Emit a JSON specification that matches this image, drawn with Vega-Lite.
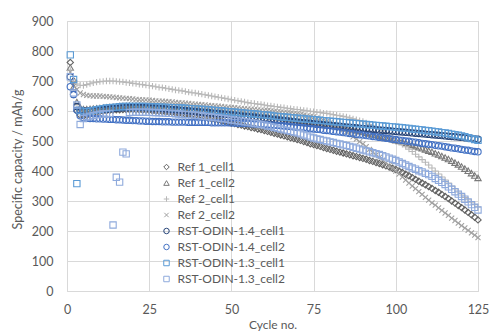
{
"$schema":"https://vega.github.io/schema/vega-lite/v6.json",
"width":411,"height":270,
"autosize":{"type":"none"},
"padding":{"left":67,"top":21,"right":12,"bottom":40},
"background":"#ffffff",
"config":{"font":"Lato","view":{"stroke":"#d9d9d9","strokeWidth":1}},
"datasets":{
"A":[{"c":1,"v":762},{"c":2,"v":700},{"c":3,"v":600},{"c":4,"v":586},{"c":5,"v":583},{"c":6,"v":585},{"c":7,"v":588},{"c":8,"v":592},{"c":9,"v":595},{"c":10,"v":598},{"c":11,"v":600},{"c":12,"v":601},{"c":13,"v":602},{"c":14,"v":603},{"c":15,"v":604},{"c":16,"v":604},{"c":17,"v":605},{"c":18,"v":605},{"c":19,"v":605},{"c":20,"v":605},{"c":21,"v":604},{"c":22,"v":604},{"c":23,"v":603},{"c":24,"v":603},{"c":25,"v":602},{"c":26,"v":601},{"c":27,"v":600},{"c":28,"v":599},{"c":29,"v":598},{"c":30,"v":597},{"c":31,"v":596},{"c":32,"v":595},{"c":33,"v":594},{"c":34,"v":592},{"c":35,"v":591},{"c":36,"v":589},{"c":37,"v":588},{"c":38,"v":586},{"c":39,"v":584},{"c":40,"v":582},{"c":41,"v":580},{"c":42,"v":578},{"c":43,"v":576},{"c":44,"v":574},{"c":45,"v":572},{"c":46,"v":570},{"c":47,"v":567},{"c":48,"v":565},{"c":49,"v":562},{"c":50,"v":560},{"c":51,"v":558},{"c":52,"v":555},{"c":53,"v":553},{"c":54,"v":550},{"c":55,"v":548},{"c":56,"v":545},{"c":57,"v":543},{"c":58,"v":540},{"c":59,"v":538},{"c":60,"v":535},{"c":61,"v":532},{"c":62,"v":529},{"c":63,"v":526},{"c":64,"v":523},{"c":65,"v":520},{"c":66,"v":517},{"c":67,"v":514},{"c":68,"v":511},{"c":69,"v":508},{"c":70,"v":505},{"c":71,"v":502},{"c":72,"v":498},{"c":73,"v":495},{"c":74,"v":491},{"c":75,"v":488},{"c":76,"v":485},{"c":77,"v":482},{"c":78,"v":478},{"c":79,"v":475},{"c":80,"v":472},{"c":81,"v":469},{"c":82,"v":466},{"c":83,"v":463},{"c":84,"v":460},{"c":85,"v":457},{"c":86,"v":454},{"c":87,"v":451},{"c":88,"v":448},{"c":89,"v":445},{"c":90,"v":442},{"c":91,"v":439},{"c":92,"v":435},{"c":93,"v":432},{"c":94,"v":428},{"c":95,"v":425},{"c":96,"v":421},{"c":97,"v":417},{"c":98,"v":413},{"c":99,"v":409},{"c":100,"v":405},{"c":101,"v":400},{"c":102,"v":395},{"c":103,"v":389},{"c":104,"v":384},{"c":105,"v":378},{"c":106,"v":372},{"c":107,"v":366},{"c":108,"v":360},{"c":109,"v":354},{"c":110,"v":348},{"c":111,"v":342},{"c":112,"v":335},{"c":113,"v":329},{"c":114,"v":322},{"c":115,"v":315},{"c":116,"v":308},{"c":117,"v":300},{"c":118,"v":293},{"c":119,"v":285},{"c":120,"v":278},{"c":121,"v":270},{"c":122,"v":262},{"c":123,"v":254},{"c":124,"v":246},{"c":125,"v":237}],
"B":[{"c":1,"v":745},{"c":2,"v":680},{"c":3,"v":630},{"c":4,"v":612},{"c":5,"v":606},{"c":6,"v":606},{"c":7,"v":607},{"c":8,"v":608},{"c":9,"v":609},{"c":10,"v":610},{"c":11,"v":611},{"c":12,"v":612},{"c":13,"v":613},{"c":14,"v":614},{"c":15,"v":615},{"c":16,"v":616},{"c":17,"v":617},{"c":18,"v":617},{"c":19,"v":618},{"c":20,"v":618},{"c":21,"v":618},{"c":22,"v":618},{"c":23,"v":617},{"c":24,"v":617},{"c":25,"v":617},{"c":26,"v":616},{"c":27,"v":616},{"c":28,"v":615},{"c":29,"v":615},{"c":30,"v":614},{"c":31,"v":613},{"c":32,"v":612},{"c":33,"v":612},{"c":34,"v":611},{"c":35,"v":610},{"c":36,"v":609},{"c":37,"v":608},{"c":38,"v":607},{"c":39,"v":607},{"c":40,"v":606},{"c":41,"v":605},{"c":42,"v":604},{"c":43,"v":603},{"c":44,"v":602},{"c":45,"v":601},{"c":46,"v":600},{"c":47,"v":599},{"c":48,"v":598},{"c":49,"v":597},{"c":50,"v":596},{"c":51,"v":595},{"c":52,"v":594},{"c":53,"v":593},{"c":54,"v":592},{"c":55,"v":591},{"c":56,"v":590},{"c":57,"v":589},{"c":58,"v":588},{"c":59,"v":586},{"c":60,"v":585},{"c":61,"v":584},{"c":62,"v":582},{"c":63,"v":581},{"c":64,"v":579},{"c":65,"v":578},{"c":66,"v":576},{"c":67,"v":575},{"c":68,"v":573},{"c":69,"v":572},{"c":70,"v":570},{"c":71,"v":568},{"c":72,"v":567},{"c":73,"v":565},{"c":74,"v":564},{"c":75,"v":562},{"c":76,"v":560},{"c":77,"v":558},{"c":78,"v":557},{"c":79,"v":555},{"c":80,"v":553},{"c":81,"v":551},{"c":82,"v":549},{"c":83,"v":547},{"c":84,"v":545},{"c":85,"v":543},{"c":86,"v":540},{"c":87,"v":538},{"c":88,"v":535},{"c":89,"v":533},{"c":90,"v":530},{"c":91,"v":527},{"c":92,"v":525},{"c":93,"v":522},{"c":94,"v":520},{"c":95,"v":517},{"c":96,"v":514},{"c":97,"v":511},{"c":98,"v":509},{"c":99,"v":506},{"c":100,"v":503},{"c":101,"v":500},{"c":102,"v":497},{"c":103,"v":494},{"c":104,"v":490},{"c":105,"v":487},{"c":106,"v":483},{"c":107,"v":479},{"c":108,"v":476},{"c":109,"v":472},{"c":110,"v":468},{"c":111,"v":464},{"c":112,"v":459},{"c":113,"v":455},{"c":114,"v":450},{"c":115,"v":445},{"c":116,"v":440},{"c":117,"v":434},{"c":118,"v":428},{"c":119,"v":422},{"c":120,"v":415},{"c":121,"v":408},{"c":122,"v":401},{"c":123,"v":393},{"c":124,"v":385},{"c":125,"v":377}],
"C":[{"c":1,"v":735},{"c":2,"v":705},{"c":3,"v":690},{"c":4,"v":686},{"c":5,"v":685},{"c":6,"v":688},{"c":7,"v":691},{"c":8,"v":694},{"c":9,"v":696},{"c":10,"v":698},{"c":11,"v":699},{"c":12,"v":700},{"c":13,"v":700},{"c":14,"v":700},{"c":15,"v":699},{"c":16,"v":698},{"c":17,"v":697},{"c":18,"v":695},{"c":19,"v":694},{"c":20,"v":692},{"c":21,"v":691},{"c":22,"v":689},{"c":23,"v":688},{"c":24,"v":686},{"c":25,"v":685},{"c":26,"v":683},{"c":27,"v":681},{"c":28,"v":679},{"c":29,"v":678},{"c":30,"v":676},{"c":31,"v":674},{"c":32,"v":672},{"c":33,"v":670},{"c":34,"v":669},{"c":35,"v":667},{"c":36,"v":665},{"c":37,"v":663},{"c":38,"v":661},{"c":39,"v":660},{"c":40,"v":658},{"c":41,"v":656},{"c":42,"v":654},{"c":43,"v":652},{"c":44,"v":650},{"c":45,"v":648},{"c":46,"v":646},{"c":47,"v":644},{"c":48,"v":642},{"c":49,"v":640},{"c":50,"v":638},{"c":51,"v":636},{"c":52,"v":634},{"c":53,"v":632},{"c":54,"v":630},{"c":55,"v":628},{"c":56,"v":626},{"c":57,"v":625},{"c":58,"v":623},{"c":59,"v":622},{"c":60,"v":620},{"c":61,"v":618},{"c":62,"v":617},{"c":63,"v":615},{"c":64,"v":614},{"c":65,"v":612},{"c":66,"v":611},{"c":67,"v":609},{"c":68,"v":608},{"c":69,"v":606},{"c":70,"v":605},{"c":71,"v":604},{"c":72,"v":602},{"c":73,"v":601},{"c":74,"v":599},{"c":75,"v":598},{"c":76,"v":596},{"c":77,"v":595},{"c":78,"v":593},{"c":79,"v":592},{"c":80,"v":590},{"c":81,"v":588},{"c":82,"v":586},{"c":83,"v":584},{"c":84,"v":582},{"c":85,"v":580},{"c":86,"v":577},{"c":87,"v":574},{"c":88,"v":571},{"c":89,"v":568},{"c":90,"v":565},{"c":91,"v":560},{"c":92,"v":555},{"c":93,"v":550},{"c":94,"v":545},{"c":95,"v":540},{"c":96,"v":534},{"c":97,"v":527},{"c":98,"v":520},{"c":99,"v":513},{"c":100,"v":505},{"c":101,"v":497},{"c":102,"v":489},{"c":103,"v":481},{"c":104,"v":473},{"c":105,"v":465},{"c":106,"v":456},{"c":107,"v":447},{"c":108,"v":438},{"c":109,"v":429},{"c":110,"v":420},{"c":111,"v":410},{"c":112,"v":400},{"c":113,"v":390},{"c":114,"v":380},{"c":115,"v":370},{"c":116,"v":360},{"c":117,"v":350},{"c":118,"v":340},{"c":119,"v":330},{"c":120,"v":320},{"c":121,"v":312},{"c":122,"v":304},{"c":123,"v":296},{"c":124,"v":288},{"c":125,"v":280}],
"D":[{"c":1,"v":730},{"c":2,"v":695},{"c":3,"v":672},{"c":4,"v":660},{"c":5,"v":655},{"c":6,"v":652},{"c":7,"v":651},{"c":8,"v":650},{"c":9,"v":650},{"c":10,"v":650},{"c":11,"v":649},{"c":12,"v":648},{"c":13,"v":647},{"c":14,"v":646},{"c":15,"v":645},{"c":16,"v":644},{"c":17,"v":643},{"c":18,"v":642},{"c":19,"v":641},{"c":20,"v":640},{"c":21,"v":639},{"c":22,"v":638},{"c":23,"v":637},{"c":24,"v":637},{"c":25,"v":636},{"c":26,"v":635},{"c":27,"v":634},{"c":28,"v":633},{"c":29,"v":633},{"c":30,"v":632},{"c":31,"v":631},{"c":32,"v":630},{"c":33,"v":629},{"c":34,"v":628},{"c":35,"v":627},{"c":36,"v":626},{"c":37,"v":625},{"c":38,"v":624},{"c":39,"v":623},{"c":40,"v":622},{"c":41,"v":621},{"c":42,"v":620},{"c":43,"v":619},{"c":44,"v":618},{"c":45,"v":617},{"c":46,"v":616},{"c":47,"v":615},{"c":48,"v":614},{"c":49,"v":613},{"c":50,"v":612},{"c":51,"v":611},{"c":52,"v":610},{"c":53,"v":609},{"c":54,"v":608},{"c":55,"v":607},{"c":56,"v":606},{"c":57,"v":605},{"c":58,"v":604},{"c":59,"v":603},{"c":60,"v":602},{"c":61,"v":601},{"c":62,"v":600},{"c":63,"v":599},{"c":64,"v":597},{"c":65,"v":596},{"c":66,"v":595},{"c":67,"v":594},{"c":68,"v":593},{"c":69,"v":591},{"c":70,"v":590},{"c":71,"v":588},{"c":72,"v":586},{"c":73,"v":584},{"c":74,"v":582},{"c":75,"v":580},{"c":76,"v":577},{"c":77,"v":573},{"c":78,"v":569},{"c":79,"v":565},{"c":80,"v":560},{"c":81,"v":555},{"c":82,"v":549},{"c":83,"v":543},{"c":84,"v":537},{"c":85,"v":530},{"c":86,"v":522},{"c":87,"v":514},{"c":88,"v":506},{"c":89,"v":498},{"c":90,"v":490},{"c":91,"v":481},{"c":92,"v":472},{"c":93,"v":463},{"c":94,"v":454},{"c":95,"v":445},{"c":96,"v":436},{"c":97,"v":427},{"c":98,"v":418},{"c":99,"v":409},{"c":100,"v":400},{"c":101,"v":390},{"c":102,"v":380},{"c":103,"v":370},{"c":104,"v":360},{"c":105,"v":350},{"c":106,"v":341},{"c":107,"v":331},{"c":108,"v":322},{"c":109,"v":312},{"c":110,"v":303},{"c":111,"v":294},{"c":112,"v":286},{"c":113,"v":277},{"c":114,"v":269},{"c":115,"v":260},{"c":116,"v":252},{"c":117,"v":243},{"c":118,"v":235},{"c":119,"v":226},{"c":120,"v":218},{"c":121,"v":210},{"c":122,"v":202},{"c":123,"v":194},{"c":124,"v":186},{"c":125,"v":178}],
"E":[{"c":1,"v":714},{"c":2,"v":655},{"c":3,"v":615},{"c":4,"v":602},{"c":5,"v":600},{"c":6,"v":600},{"c":7,"v":601},{"c":8,"v":602},{"c":9,"v":603},{"c":10,"v":604},{"c":11,"v":605},{"c":12,"v":606},{"c":13,"v":607},{"c":14,"v":608},{"c":15,"v":609},{"c":16,"v":610},{"c":17,"v":611},{"c":18,"v":611},{"c":19,"v":612},{"c":20,"v":612},{"c":21,"v":612},{"c":22,"v":612},{"c":23,"v":612},{"c":24,"v":611},{"c":25,"v":611},{"c":26,"v":610},{"c":27,"v":610},{"c":28,"v":609},{"c":29,"v":608},{"c":30,"v":607},{"c":31,"v":606},{"c":32,"v":605},{"c":33,"v":604},{"c":34,"v":603},{"c":35,"v":602},{"c":36,"v":601},{"c":37,"v":600},{"c":38,"v":599},{"c":39,"v":598},{"c":40,"v":597},{"c":41,"v":596},{"c":42,"v":595},{"c":43,"v":594},{"c":44,"v":593},{"c":45,"v":592},{"c":46,"v":591},{"c":47,"v":590},{"c":48,"v":589},{"c":49,"v":588},{"c":50,"v":587},{"c":51,"v":586},{"c":52,"v":584},{"c":53,"v":583},{"c":54,"v":582},{"c":55,"v":581},{"c":56,"v":580},{"c":57,"v":579},{"c":58,"v":577},{"c":59,"v":576},{"c":60,"v":575},{"c":61,"v":574},{"c":62,"v":573},{"c":63,"v":571},{"c":64,"v":570},{"c":65,"v":569},{"c":66,"v":568},{"c":67,"v":567},{"c":68,"v":565},{"c":69,"v":564},{"c":70,"v":563},{"c":71,"v":562},{"c":72,"v":561},{"c":73,"v":560},{"c":74,"v":559},{"c":75,"v":558},{"c":76,"v":556},{"c":77,"v":555},{"c":78,"v":554},{"c":79,"v":553},{"c":80,"v":552},{"c":81,"v":551},{"c":82,"v":550},{"c":83,"v":549},{"c":84,"v":548},{"c":85,"v":547},{"c":86,"v":546},{"c":87,"v":545},{"c":88,"v":544},{"c":89,"v":543},{"c":90,"v":542},{"c":91,"v":541},{"c":92,"v":540},{"c":93,"v":539},{"c":94,"v":538},{"c":95,"v":537},{"c":96,"v":536},{"c":97,"v":535},{"c":98,"v":534},{"c":99,"v":533},{"c":100,"v":532},{"c":101,"v":531},{"c":102,"v":530},{"c":103,"v":529},{"c":104,"v":528},{"c":105,"v":527},{"c":106,"v":526},{"c":107,"v":525},{"c":108,"v":524},{"c":109,"v":523},{"c":110,"v":522},{"c":111,"v":521},{"c":112,"v":520},{"c":113,"v":519},{"c":114,"v":518},{"c":115,"v":517},{"c":116,"v":516},{"c":117,"v":515},{"c":118,"v":514},{"c":119,"v":513},{"c":120,"v":512},{"c":121,"v":511},{"c":122,"v":510},{"c":123,"v":509},{"c":124,"v":507},{"c":125,"v":506}],
"F":[{"c":1,"v":681},{"c":2,"v":655},{"c":3,"v":603},{"c":4,"v":584},{"c":5,"v":578},{"c":6,"v":576},{"c":7,"v":575},{"c":8,"v":575},{"c":9,"v":574},{"c":10,"v":574},{"c":11,"v":573},{"c":12,"v":573},{"c":13,"v":572},{"c":14,"v":572},{"c":15,"v":571},{"c":16,"v":571},{"c":17,"v":570},{"c":18,"v":569},{"c":19,"v":569},{"c":20,"v":568},{"c":21,"v":568},{"c":22,"v":567},{"c":23,"v":567},{"c":24,"v":566},{"c":25,"v":566},{"c":26,"v":565},{"c":27,"v":565},{"c":28,"v":565},{"c":29,"v":564},{"c":30,"v":564},{"c":31,"v":564},{"c":32,"v":563},{"c":33,"v":563},{"c":34,"v":563},{"c":35,"v":563},{"c":36,"v":563},{"c":37,"v":562},{"c":38,"v":562},{"c":39,"v":562},{"c":40,"v":562},{"c":41,"v":562},{"c":42,"v":562},{"c":43,"v":562},{"c":44,"v":561},{"c":45,"v":561},{"c":46,"v":561},{"c":47,"v":561},{"c":48,"v":561},{"c":49,"v":561},{"c":50,"v":560},{"c":51,"v":560},{"c":52,"v":559},{"c":53,"v":559},{"c":54,"v":558},{"c":55,"v":558},{"c":56,"v":557},{"c":57,"v":557},{"c":58,"v":556},{"c":59,"v":556},{"c":60,"v":555},{"c":61,"v":554},{"c":62,"v":553},{"c":63,"v":553},{"c":64,"v":552},{"c":65,"v":551},{"c":66,"v":550},{"c":67,"v":549},{"c":68,"v":548},{"c":69,"v":547},{"c":70,"v":546},{"c":71,"v":545},{"c":72,"v":544},{"c":73,"v":543},{"c":74,"v":541},{"c":75,"v":540},{"c":76,"v":539},{"c":77,"v":538},{"c":78,"v":536},{"c":79,"v":535},{"c":80,"v":534},{"c":81,"v":532},{"c":82,"v":531},{"c":83,"v":530},{"c":84,"v":528},{"c":85,"v":527},{"c":86,"v":525},{"c":87,"v":524},{"c":88,"v":522},{"c":89,"v":521},{"c":90,"v":520},{"c":91,"v":518},{"c":92,"v":517},{"c":93,"v":515},{"c":94,"v":514},{"c":95,"v":512},{"c":96,"v":511},{"c":97,"v":509},{"c":98,"v":508},{"c":99,"v":506},{"c":100,"v":505},{"c":101,"v":503},{"c":102,"v":502},{"c":103,"v":500},{"c":104,"v":499},{"c":105,"v":497},{"c":106,"v":496},{"c":107,"v":494},{"c":108,"v":492},{"c":109,"v":491},{"c":110,"v":489},{"c":111,"v":488},{"c":112,"v":486},{"c":113,"v":484},{"c":114,"v":483},{"c":115,"v":481},{"c":116,"v":479},{"c":117,"v":477},{"c":118,"v":476},{"c":119,"v":474},{"c":120,"v":472},{"c":121,"v":470},{"c":122,"v":469},{"c":123,"v":467},{"c":124,"v":465},{"c":125,"v":464}],
"G":[{"c":1,"v":787},{"c":2,"v":705},{"c":3,"v":358},{"c":4,"v":602},{"c":5,"v":597},{"c":6,"v":598},{"c":7,"v":600},{"c":8,"v":602},{"c":9,"v":604},{"c":10,"v":606},{"c":11,"v":608},{"c":12,"v":610},{"c":13,"v":611},{"c":14,"v":612},{"c":15,"v":613},{"c":16,"v":614},{"c":17,"v":615},{"c":18,"v":615},{"c":19,"v":615},{"c":20,"v":615},{"c":21,"v":615},{"c":22,"v":615},{"c":23,"v":615},{"c":24,"v":615},{"c":25,"v":614},{"c":26,"v":614},{"c":27,"v":614},{"c":28,"v":613},{"c":29,"v":613},{"c":30,"v":612},{"c":31,"v":612},{"c":32,"v":611},{"c":33,"v":611},{"c":34,"v":610},{"c":35,"v":610},{"c":36,"v":609},{"c":37,"v":608},{"c":38,"v":608},{"c":39,"v":607},{"c":40,"v":606},{"c":41,"v":605},{"c":42,"v":605},{"c":43,"v":604},{"c":44,"v":603},{"c":45,"v":602},{"c":46,"v":601},{"c":47,"v":600},{"c":48,"v":599},{"c":49,"v":598},{"c":50,"v":597},{"c":51,"v":596},{"c":52,"v":595},{"c":53,"v":594},{"c":54,"v":593},{"c":55,"v":592},{"c":56,"v":591},{"c":57,"v":590},{"c":58,"v":589},{"c":59,"v":588},{"c":60,"v":587},{"c":61,"v":586},{"c":62,"v":585},{"c":63,"v":583},{"c":64,"v":582},{"c":65,"v":581},{"c":66,"v":580},{"c":67,"v":579},{"c":68,"v":578},{"c":69,"v":577},{"c":70,"v":576},{"c":71,"v":575},{"c":72,"v":574},{"c":73,"v":573},{"c":74,"v":572},{"c":75,"v":571},{"c":76,"v":570},{"c":77,"v":569},{"c":78,"v":568},{"c":79,"v":567},{"c":80,"v":566},{"c":81,"v":565},{"c":82,"v":564},{"c":83,"v":563},{"c":84,"v":562},{"c":85,"v":561},{"c":86,"v":560},{"c":87,"v":559},{"c":88,"v":558},{"c":89,"v":557},{"c":90,"v":556},{"c":91,"v":555},{"c":92,"v":554},{"c":93,"v":553},{"c":94,"v":552},{"c":95,"v":551},{"c":96,"v":550},{"c":97,"v":549},{"c":98,"v":548},{"c":99,"v":547},{"c":100,"v":546},{"c":101,"v":545},{"c":102,"v":544},{"c":103,"v":543},{"c":104,"v":542},{"c":105,"v":540},{"c":106,"v":539},{"c":107,"v":538},{"c":108,"v":537},{"c":109,"v":535},{"c":110,"v":534},{"c":111,"v":533},{"c":112,"v":531},{"c":113,"v":530},{"c":114,"v":528},{"c":115,"v":527},{"c":116,"v":525},{"c":117,"v":523},{"c":118,"v":521},{"c":119,"v":519},{"c":120,"v":517},{"c":121,"v":514},{"c":122,"v":511},{"c":123,"v":508},{"c":124,"v":505},{"c":125,"v":502}],
"H":[{"c":1,"v":714},{"c":2,"v":660},{"c":3,"v":620},{"c":4,"v":555},{"c":5,"v":575},{"c":6,"v":580},{"c":7,"v":583},{"c":8,"v":585},{"c":9,"v":587},{"c":10,"v":589},{"c":11,"v":590},{"c":12,"v":591},{"c":13,"v":592},{"c":14,"v":220},{"c":15,"v":379},{"c":16,"v":363},{"c":17,"v":463},{"c":18,"v":457},{"c":19,"v":595},{"c":20,"v":596},{"c":21,"v":596},{"c":22,"v":596},{"c":23,"v":596},{"c":24,"v":596},{"c":25,"v":596},{"c":26,"v":595},{"c":27,"v":595},{"c":28,"v":594},{"c":29,"v":594},{"c":30,"v":593},{"c":31,"v":592},{"c":32,"v":592},{"c":33,"v":591},{"c":34,"v":590},{"c":35,"v":589},{"c":36,"v":588},{"c":37,"v":588},{"c":38,"v":587},{"c":39,"v":586},{"c":40,"v":585},{"c":41,"v":584},{"c":42,"v":582},{"c":43,"v":581},{"c":44,"v":580},{"c":45,"v":578},{"c":46,"v":577},{"c":47,"v":575},{"c":48,"v":574},{"c":49,"v":572},{"c":50,"v":570},{"c":51,"v":569},{"c":52,"v":567},{"c":53,"v":566},{"c":54,"v":564},{"c":55,"v":563},{"c":56,"v":561},{"c":57,"v":559},{"c":58,"v":557},{"c":59,"v":555},{"c":60,"v":553},{"c":61,"v":550},{"c":62,"v":548},{"c":63,"v":545},{"c":64,"v":543},{"c":65,"v":540},{"c":66,"v":537},{"c":67,"v":535},{"c":68,"v":532},{"c":69,"v":530},{"c":70,"v":527},{"c":71,"v":524},{"c":72,"v":520},{"c":73,"v":517},{"c":74,"v":513},{"c":75,"v":510},{"c":76,"v":507},{"c":77,"v":505},{"c":78,"v":502},{"c":79,"v":500},{"c":80,"v":497},{"c":81,"v":495},{"c":82,"v":492},{"c":83,"v":490},{"c":84,"v":487},{"c":85,"v":485},{"c":86,"v":482},{"c":87,"v":479},{"c":88,"v":476},{"c":89,"v":473},{"c":90,"v":470},{"c":91,"v":467},{"c":92,"v":464},{"c":93,"v":461},{"c":94,"v":458},{"c":95,"v":455},{"c":96,"v":451},{"c":97,"v":447},{"c":98,"v":443},{"c":99,"v":439},{"c":100,"v":435},{"c":101,"v":430},{"c":102,"v":425},{"c":103,"v":420},{"c":104,"v":415},{"c":105,"v":410},{"c":106,"v":406},{"c":107,"v":401},{"c":108,"v":397},{"c":109,"v":392},{"c":110,"v":388},{"c":111,"v":382},{"c":112,"v":375},{"c":113,"v":369},{"c":114,"v":362},{"c":115,"v":355},{"c":116,"v":347},{"c":117,"v":339},{"c":118,"v":331},{"c":119,"v":323},{"c":120,"v":315},{"c":121,"v":306},{"c":122,"v":297},{"c":123,"v":288},{"c":124,"v":279},{"c":125,"v":270}]
},
"encoding":{
"x":{"field":"c","type":"quantitative","title":"Cycle no.","scale":{"domain":[0,125],"nice":false,"zero":false},
"axis":{"values":[0,25,50,75,100,125],"grid":true,"gridColor":"#d9d9d9","domainColor":"#d9d9d9","ticks":false,"labelFlush":false,"labelFontSize":12.5,"labelColor":"#595959","labelPadding":12,"titleFontSize":12,"titleFontWeight":"normal","titleColor":"#595959","titleY":33,"titleBaseline":"middle"}},
"y":{"field":"v","type":"quantitative","title":"Specific capacity / mAh/g","scale":{"domain":[0,900],"nice":false},
"axis":{"values":[0,100,200,300,400,500,600,700,800,900],"grid":true,"gridColor":"#d9d9d9","domain":false,"ticks":false,"labelFlush":false,"labelFontSize":12.5,"labelColor":"#595959","labelPadding":14,"titleFontSize":12.5,"titleFontWeight":"normal","titleColor":"#595959","titleX":-50,"titleY":138,"titleAngle":270,"titleAlign":"center","titleBaseline":"middle"}}
},
"layer":[
{"data":{"name":"A"},"mark":{"type":"point","filled":false,"opacity":1,"size":40,"strokeWidth":1.1},
"encoding":{
"color":{"datum":"Ref 1_cell1","type":"nominal","scale":{"domain":["Ref 1_cell1","Ref 1_cell2","Ref 2_cell1","Ref 2_cell2","RST-ODIN-1.4_cell1","RST-ODIN-1.4_cell2","RST-ODIN-1.3_cell1","RST-ODIN-1.3_cell2"],"range":["#636363","#7a7a7a","#b8b8b8","#a0a0a0","#264478","#4472c4","#5b9bd5","#8faadc"]},
"legend":{"title":null,"orient":"none","legendX":93.5,"legendY":140,"padding":0,"labelFontSize":12,"labelColor":"#595959","symbolSize":30,"symbolStrokeWidth":1,"symbolOpacity":1,"rowPadding":4,"labelOffset":5}},
"shape":{"datum":"Ref 1_cell1","type":"nominal","scale":{"domain":["Ref 1_cell1","Ref 1_cell2","Ref 2_cell1","Ref 2_cell2","RST-ODIN-1.4_cell1","RST-ODIN-1.4_cell2","RST-ODIN-1.3_cell1","RST-ODIN-1.3_cell2"],"range":["diamond","triangle-up","M-1,0H1M0,-1V1","M-0.8,-0.8L0.8,0.8M-0.8,0.8L0.8,-0.8","circle","circle","square","square"]},
"legend":{"title":null,"orient":"none","legendX":93.5,"legendY":140,"padding":0,"labelFontSize":12,"labelColor":"#595959","symbolSize":30,"symbolStrokeWidth":1,"symbolOpacity":1,"rowPadding":4,"labelOffset":5}}}},
{"data":{"name":"B"},"mark":{"type":"point","filled":false,"opacity":1,"size":40,"strokeWidth":1.1},"encoding":{"color":{"datum":"Ref 1_cell2","type":"nominal"},"shape":{"datum":"Ref 1_cell2","type":"nominal"}}},
{"data":{"name":"C"},"mark":{"type":"point","filled":false,"opacity":1,"size":40,"strokeWidth":1.1},"encoding":{"color":{"datum":"Ref 2_cell1","type":"nominal"},"shape":{"datum":"Ref 2_cell1","type":"nominal"}}},
{"data":{"name":"D"},"mark":{"type":"point","filled":false,"opacity":1,"size":40,"strokeWidth":1.1},"encoding":{"color":{"datum":"Ref 2_cell2","type":"nominal"},"shape":{"datum":"Ref 2_cell2","type":"nominal"}}},
{"data":{"name":"E"},"mark":{"type":"point","filled":false,"opacity":1,"size":40,"strokeWidth":1.1},"encoding":{"color":{"datum":"RST-ODIN-1.4_cell1","type":"nominal"},"shape":{"datum":"RST-ODIN-1.4_cell1","type":"nominal"}}},
{"data":{"name":"F"},"mark":{"type":"point","filled":false,"opacity":1,"size":40,"strokeWidth":1.1},"encoding":{"color":{"datum":"RST-ODIN-1.4_cell2","type":"nominal"},"shape":{"datum":"RST-ODIN-1.4_cell2","type":"nominal"}}},
{"data":{"name":"G"},"mark":{"type":"point","filled":false,"opacity":1,"size":40,"strokeWidth":1.1},"encoding":{"color":{"datum":"RST-ODIN-1.3_cell1","type":"nominal"},"shape":{"datum":"RST-ODIN-1.3_cell1","type":"nominal"}}},
{"data":{"name":"H"},"mark":{"type":"point","filled":false,"opacity":1,"size":40,"strokeWidth":1.1},"encoding":{"color":{"datum":"RST-ODIN-1.3_cell2","type":"nominal"},"shape":{"datum":"RST-ODIN-1.3_cell2","type":"nominal"}}}
]
}
